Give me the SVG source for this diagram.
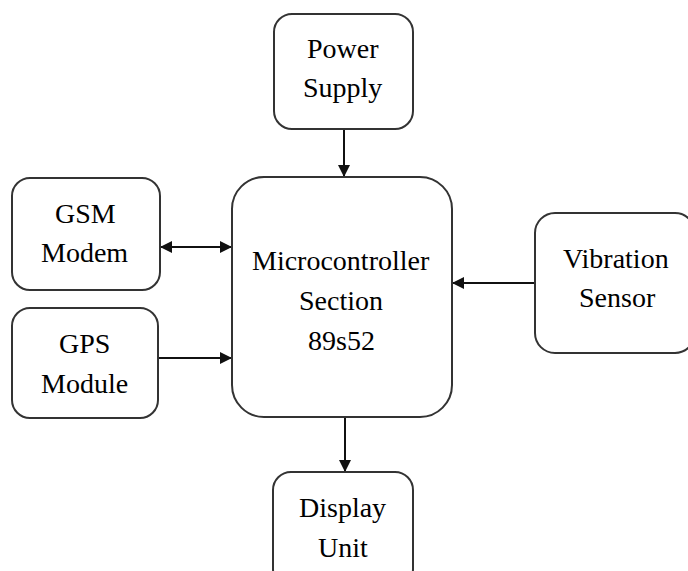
<svg xmlns="http://www.w3.org/2000/svg" width="688" height="571" viewBox="0 0 688 571">
<style>
.box{fill:#fff;stroke:#333;stroke-width:2}
.c{stroke:#111;stroke-width:2;fill:none}
</style>
<defs>
<marker id="ah" viewBox="0 0 10 10" refX="10" refY="5" markerWidth="6" markerHeight="6" orient="auto-start-reverse" markerUnits="strokeWidth">
<path d="M0,0 L10,5 L0,10 Z" fill="#111"/>
</marker>
</defs>
<rect width="688" height="571" fill="#fff"/>
<g id="connectors">
<line class="c" x1="344" y1="129" x2="344" y2="177" marker-end="url(#ah)"/>
<line class="c" x1="160" y1="247" x2="232" y2="247" marker-start="url(#ah)" marker-end="url(#ah)"/>
<line class="c" x1="158" y1="358" x2="232" y2="358" marker-end="url(#ah)"/>
<line class="c" x1="535" y1="283" x2="452" y2="283" marker-end="url(#ah)"/>
<line class="c" x1="345" y1="417" x2="345" y2="472" marker-end="url(#ah)"/>
</g>
<g id="power">
<rect class="box" x="274" y="14" width="139" height="115" rx="18"/>
<text x="307" y="58" font-family="Liberation Serif" font-size="28">Power</text>
<text x="303" y="97" font-family="Liberation Serif" font-size="28">Supply</text>
</g>
<g id="gsm">
<rect class="box" x="12" y="178" width="148" height="112" rx="18"/>
<text x="55" y="223" font-family="Liberation Serif" font-size="28">GSM</text>
<text x="41" y="262" font-family="Liberation Serif" font-size="28">Modem</text>
</g>
<g id="gps">
<rect class="box" x="12" y="308" width="146" height="110" rx="18"/>
<text x="59" y="353" font-family="Liberation Serif" font-size="28">GPS</text>
<text x="41" y="393" font-family="Liberation Serif" font-size="28">Module</text>
</g>
<g id="micro">
<rect class="box" x="232" y="177" width="220" height="240" rx="32"/>
<text x="252" y="270" font-family="Liberation Serif" font-size="28">Microcontroller</text>
<text x="299" y="310" font-family="Liberation Serif" font-size="28">Section</text>
<text x="308" y="350" font-family="Liberation Serif" font-size="28">89s52</text>
</g>
<g id="vibration">
<rect class="box" x="535" y="213" width="160" height="140" rx="20"/>
<text x="563" y="268" font-family="Liberation Serif" font-size="28">Vibration</text>
<text x="579" y="307" font-family="Liberation Serif" font-size="28">Sensor</text>
</g>
<g id="display">
<rect class="box" x="273" y="472" width="140" height="115" rx="18"/>
<text x="299" y="517" font-family="Liberation Serif" font-size="28">Display</text>
<text x="318" y="557" font-family="Liberation Serif" font-size="28">Unit</text>
</g>
</svg>
